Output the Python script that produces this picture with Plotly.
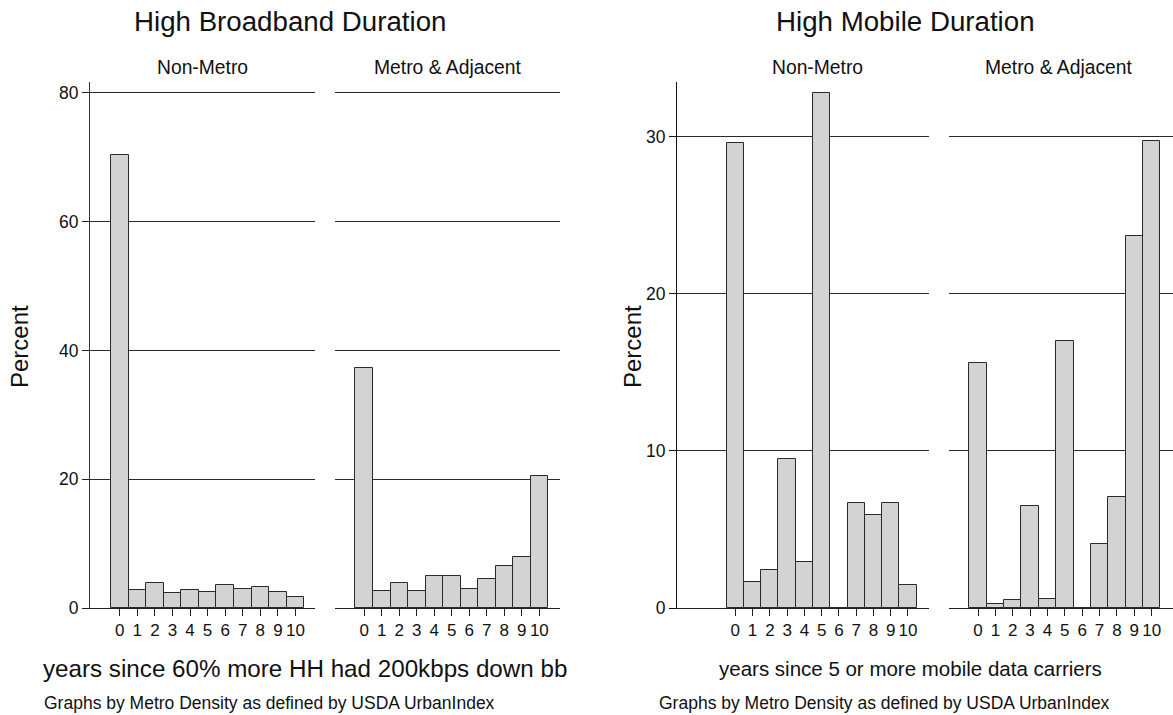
import plotly.graph_objects as go

# ---- data ----
years = list(range(11))
year_labels = [str(v) for v in years]
bb_nonmetro = [70.4, 2.85, 3.9, 2.3, 2.85, 2.5, 3.5, 2.95, 3.3, 2.55, 1.7]
bb_metro = [37.3, 2.65, 3.85, 2.65, 4.9, 4.9, 2.95, 4.45, 6.45, 7.9, 20.5]
mob_nonmetro = [29.6, 1.64, 2.4, 9.5, 2.95, 32.8, 0, 6.7, 5.9, 6.7, 1.45]
mob_metro = [15.6, 0.27, 0.5, 6.5, 0.55, 17.0, 0, 4.1, 7.1, 23.7, 29.75]
bb_yticks = [0, 20, 40, 60, 80]
mob_yticks = [0, 10, 20, 30]

W, H = 1173, 725
REF_H = 715
FONT = "Liberation Sans, Arial, sans-serif"
FILL = "#d3d3d3"
EDGE = "#2a2a2a"
GRID = "#2a2a2a"


def px(x):
    return x / W


def py(y):
    return 1 - y / REF_H


fig = go.Figure()

panels = [
    ("x", "y", bb_nonmetro),
    ("x2", "y2", bb_metro),
    ("x3", "y3", mob_nonmetro),
    ("x4", "y4", mob_metro),
]
for xa, ya, vals in panels:
    fig.add_trace(go.Bar(
        x=years, y=vals, width=1, xaxis=xa, yaxis=ya,
        marker=dict(color=FILL, line=dict(color=EDGE, width=1)),
        showlegend=False, hoverinfo="x+y",
    ))

ydom = [py(608), py(82)]

xcommon = dict(
    tickmode="array", tickvals=years, ticktext=year_labels,
    ticks="outside", ticklen=7, tickcolor="#222", tickwidth=1,
    showline=True, linecolor="#222", linewidth=1,
    showgrid=False, zeroline=False,
    tickfont=dict(family=FONT, size=17, color="#111"),
    fixedrange=True,
)

fig.update_layout(
    width=W, height=H, autosize=False,
    margin=dict(l=0, r=0, t=0, b=0),
    paper_bgcolor="white", plot_bgcolor="white",
    bargap=0,
    font=dict(family=FONT, color="#111"),
    xaxis=dict(domain=[px(90), px(315)], range=[-1.69, 11.11], anchor="y", **xcommon),
    xaxis2=dict(domain=[px(335), px(560)], range=[-1.67, 11.18], anchor="y2", **xcommon),
    xaxis3=dict(domain=[px(677), px(929)], range=[-3.38, 11.22], anchor="y3", **xcommon),
    xaxis4=dict(domain=[px(949), 1.0], range=[-1.67, 11.23], anchor="y4", **xcommon),
    yaxis=dict(domain=ydom, range=[0, 81.7], anchor="x",
               tickmode="array", tickvals=bb_yticks,
               ticks="outside", ticklen=7, tickcolor="#222",
               showline=True, linecolor="#333", linewidth=1,
               showgrid=True, gridcolor=GRID, gridwidth=1, zeroline=False,
               tickfont=dict(family=FONT, size=17.5, color="#111"), fixedrange=True),
    yaxis2=dict(domain=ydom, range=[0, 81.7], anchor="x2",
                tickmode="array", tickvals=bb_yticks, showticklabels=False,
                ticks="", showline=False,
                showgrid=True, gridcolor=GRID, gridwidth=1, zeroline=False, fixedrange=True),
    yaxis3=dict(domain=ydom, range=[0, 33.5], anchor="x3",
                tickmode="array", tickvals=mob_yticks,
                ticks="outside", ticklen=7, tickcolor="#111",
                showline=True, linecolor="#111", linewidth=1,
                showgrid=True, gridcolor=GRID, gridwidth=1, zeroline=False,
                tickfont=dict(family=FONT, size=17.5, color="#111"), fixedrange=True),
    yaxis4=dict(domain=ydom, range=[0, 33.5], anchor="x4",
                tickmode="array", tickvals=mob_yticks, showticklabels=False,
                ticks="", showline=False,
                showgrid=True, gridcolor=GRID, gridwidth=1, zeroline=False, fixedrange=True),
)

texts = [
    ("High Broadband Duration", 290, 21, 27.7, "center", 0),
    ("High Mobile Duration", 905, 21, 27.7, "center", 0),
    ("Non-Metro", 202.5, 68, 19.3, "center", 0),
    ("Metro & Adjacent", 447, 68, 19.3, "center", 0),
    ("Non-Metro", 817, 68, 19.3, "center", 0),
    ("Metro & Adjacent", 1058, 68, 19.3, "center", 0),
    ("years since 60% more HH had 200kbps down bb", 305, 668, 24.2, "center", 0),
    ("years since 5 or more mobile data carriers", 910, 668, 20.5, "center", 0),
    ("Graphs by Metro Density as defined by USDA UrbanIndex", 42, 703, 17.5, "left", 0),
    ("Graphs by Metro Density as defined by USDA UrbanIndex", 657, 703, 17.5, "left", 0),
    ("Percent", 20, 347, 24, "center", -90),
    ("Percent", 633, 347, 24, "center", -90),
]
for t, x, y, s, anc, ang in texts:
    fig.add_annotation(
        text=t, x=px(x), y=py(y), xref="paper", yref="paper",
        xanchor=anc, yanchor="middle", showarrow=False, textangle=ang,
        font=dict(family=FONT, size=s, color="#111"),
    )

post = (
    "var de=document.documentElement, b=document.body;"
    "de.style.margin='0';de.style.padding='0';de.style.overflow='hidden';"
    "b.style.margin='0';b.style.padding='0';b.style.overflow='hidden';"
    "var d=document.getElementById('{plot_id}');"
    "var p=d.parentElement;p.style.position='absolute';p.style.top='0px';p.style.left='0px';"
)

fig.write_html(
    "out.html",
    config={"responsive": False, "displayModeBar": False},
    post_script=post,
)
